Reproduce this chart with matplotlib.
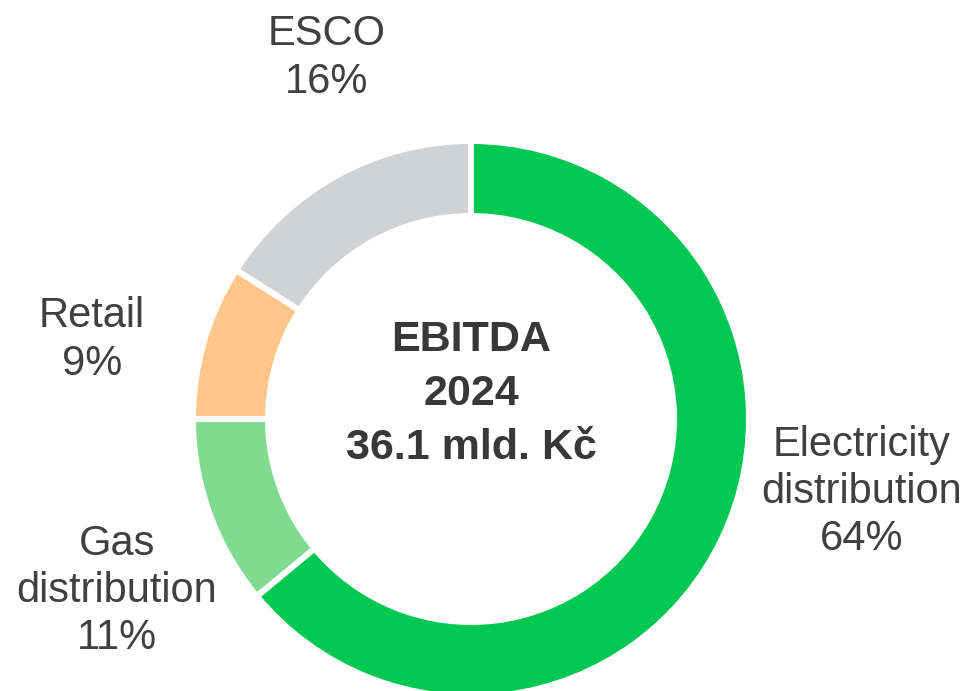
import matplotlib
matplotlib.use("Agg")
import matplotlib.pyplot as plt

categories = ["Electricity\ndistribution", "Gas\ndistribution", "Retail", "ESCO"]
shares = [64, 11, 9, 16]
colors = ["#00C853", "#80DB90", "#FFC68C", "#D1D2D4"]
center_title = "EBITDA\n2024\n36.1 mld. Kč"

plt.rcParams['font.family'] = ['Liberation Sans', 'DejaVu Sans']

W, H = 971, 691
fig = plt.figure(figsize=(W / 100, H / 100), dpi=100)
ax = fig.add_axes([0, 0, 1, 1])

cx, cy = 471, H - 419
ax.pie(shares, colors=colors, startangle=90, counterclock=False,
       radius=278, center=(cx, cy),
       wedgeprops=dict(width=75, edgecolor="white", linewidth=4.3))
ax.set_xlim(0, W)
ax.set_ylim(0, H)
ax.set_aspect('auto')
ax.axis('off')

label_pos = [(862, H - 492), (117, H - 591), (92, H - 340), (327, H - 58)]
for cat, val, (x, y) in zip(categories, shares, label_pos):
    ax.text(x, y, f"{cat}\n{val}%", ha="center", va="center",
            fontsize=30, color="#404040", linespacing=1.24)

ax.text(cx, H - 394, center_title, ha="center", va="center",
        fontsize=31, fontweight="bold", color="#383838", linespacing=1.45)

fig.savefig("out.png", dpi=100)
